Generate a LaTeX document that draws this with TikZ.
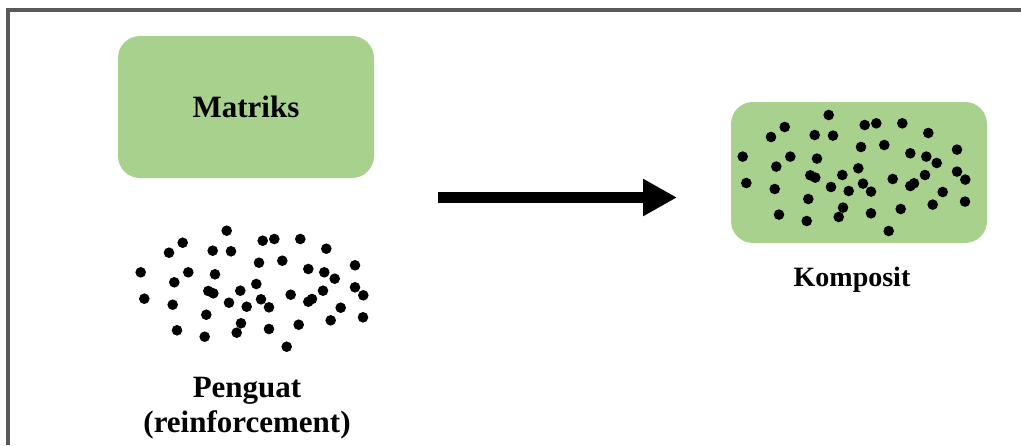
\documentclass[tikz,border=0pt]{standalone}
\usepackage{fontspec}
\setmainfont{Liberation Serif}
\usetikzlibrary{positioning,arrows.meta}
\definecolor{matgreen}{HTML}{A9D18E}
\definecolor{framegray}{HTML}{595959}

\tikzset{
  box/.style={fill=matgreen, rounded corners=22pt, minimum width=256pt, inner sep=0pt},
  lbl/.style={font=\bfseries\fontsize{31}{35}\selectfont, align=center},
  grain/.style={fill=black}
}

\newcommand{\grainlist}{226.7/230.7, 182.7/242.7, 169/252.7, 212.7/250.7, 231/251.3,
  262.7/240.7, 274.3/239, 300.3/239, 326.3/248.7, 259/262.7, 282.3/260.7,
  140.7/272.3, 188.3/272.3, 215/274.3, 174.3/282.3, 308.3/269, 324.3/272.3,
  334.7/278.7, 355/265.3, 144.3/298.7, 172.7/304.7, 208.3/291, 213.3/293.3,
  240.3/290.7, 256.3/284, 229/302.7, 246.7/306.7, 261/299.3, 269/307.3,
  290.7/294.7, 308.3/301.7, 312/299, 323/290.7, 355/287.3, 363.3/295.3,
  340.7/307.7, 206.3/314.7, 241/323.3, 236.7/332.7, 177/330.3, 204.7/336.7,
  269/329, 298.7/324.7, 330.7/320.3, 363/317.3, 286.7/346.7}

\begin{document}
\begin{tikzpicture}[x=1pt,y=-1pt]
\useasboundingbox (0,0) rectangle (1021,445);

% frame
\draw[framegray, line width=4pt] (8,445) -- (8,10) -- (1021,10);

% matrix and reinforcement
\node[box, minimum height=142pt, lbl] (matriks) at (246,107) {Matriks};
\foreach \px/\py in \grainlist
  \fill[grain] (\px,\py) circle (5.3pt);
\node[lbl, anchor=base] (penguat) at (247,432) {Penguat\\(reinforcement)};

% arrow
\coordinate (arrowstart) at (438,197.5);
\coordinate (arrowend) at (677,197.5);
\draw[line width=11pt, -{Triangle[length=34pt,width=35pt]}] (arrowstart) -- (arrowend);

% composite
\node[box, minimum height=141pt] (komposit) at (859,172.5) {};
\begin{scope}[shift={(602,-115.7)}]
\foreach \px/\py in \grainlist
  \fill[grain] (\px,\py) circle (5.3pt);
\end{scope}
\node[lbl, font=\bfseries\fontsize{28}{32}\selectfont, anchor=base] (kompositlbl) at (852,286) {Komposit};
\end{tikzpicture}
\end{document}
